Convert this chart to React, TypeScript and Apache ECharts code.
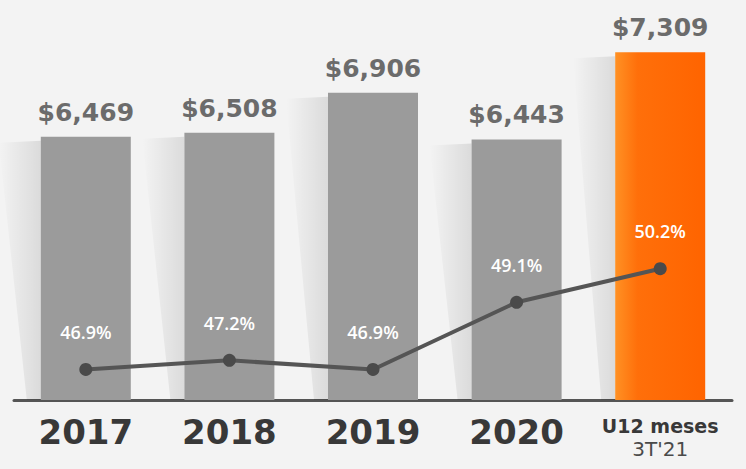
import React, { useEffect, useRef } from "react";
import * as echarts from "echarts";

const categories = ["2017", "2018", "2019", "2020", "U12 meses"];
const revenue = [6469, 6508, 6906, 6443, 7309];
const margin = [46.9, 47.2, 46.9, 49.1, 50.2];
const lastSubLabel = "3T'21";

export default function App() {
  const ref = useRef<HTMLDivElement>(null);
  useEffect(() => {
    if (!ref.current) return;
    const chart = echarts.init(ref.current, undefined, { renderer: "svg" });
    const barW = 90;
    const orange = new echarts.graphic.LinearGradient(0, 0, 1, 0, [
      { offset: 0, color: "#ff9124" },
      { offset: 0.25, color: "#ff6f0a" },
      { offset: 1, color: "#ff6400" },
    ]);
    chart.setOption({
      animation: false,
      backgroundColor: "#f3f3f3",
      grid: { left: 14, right: 14, top: 0, bottom: 69 },
      xAxis: {
        type: "category",
        data: categories,
        axisTick: { show: false },
        axisLine: { lineStyle: { color: "#555555", width: 3 } },
        axisLabel: {
          margin: 14,
          interval: 0,
          formatter: (v: string) =>
            v === categories[categories.length - 1]
              ? `{b|${v}}\n{c|${lastSubLabel}}`
              : `{a|${v}}`,
          rich: {
            a: {
              fontFamily: "DejaVu Sans",
              fontWeight: "bold",
              fontSize: 34,
              color: "#383838",
              lineHeight: 36,
            },
            b: {
              fontFamily: "DejaVu Sans",
              fontWeight: "bold",
              fontSize: 19,
              color: "#383838",
              lineHeight: 24,
            },
            c: {
              fontFamily: "DejaVu Sans",
              fontSize: 20,
              color: "#4a4a4a",
              lineHeight: 22,
            },
          },
        },
      },
      yAxis: [
        { type: "value", min: 3850, max: 7830, show: false, splitLine: { show: false } },
        { type: "value", min: 45.9, max: 59.0, show: false, splitLine: { show: false } },
      ],
      series: [
        {
          type: "custom",
          yAxisIndex: 0,
          z: 1,
          silent: true,
          data: revenue.map((v, i) => [i, v]),
          renderItem: (params: any, api: any) => {
            const top = api.coord([api.value(0), api.value(1)]);
            const base = api.coord([api.value(0), 3850]);
            const x0 = top[0] - barW / 2;
            return {
              type: "polygon",
              shape: {
                points: [
                  [x0 - 42, top[1] + 6],
                  [x0, top[1] + 4],
                  [x0, base[1]],
                  [x0 - 14, base[1]],
                ],
              },
              style: {
                fill: new echarts.graphic.LinearGradient(0, 0, 1, 0, [
                  { offset: 0, color: "rgba(0,0,0,0)" },
                  { offset: 1, color: "rgba(0,0,0,0.10)" },
                ]),
              },
            };
          },
        },
        {
          type: "bar",
          yAxisIndex: 0,
          barWidth: barW,
          z: 2,
          data: revenue.map((v, i) => ({
            value: v,
            itemStyle: { color: i === revenue.length - 1 ? orange : "#9b9b9b" },
          })),
          label: {
            show: true,
            position: "top",
            distance: 12,
            formatter: (p: any) => "$" + Number(p.value).toLocaleString("en-US"),
            fontFamily: "DejaVu Sans",
            fontWeight: "bold",
            fontSize: 25,
            color: "#6b6b6b",
          },
        },
        {
          type: "line",
          yAxisIndex: 1,
          data: margin,
          symbol: "circle",
          symbolSize: 13,
          z: 5,
          lineStyle: { color: "#555555", width: 4 },
          itemStyle: { color: "#4a4a4a" },
          label: {
            show: true,
            position: "top",
            distance: 22,
            formatter: (p: any) => p.value.toFixed(1) + "%",
            fontFamily: "Open Sans",
            fontWeight: 600,
            fontSize: 18,
            color: "#ffffff",
          },
        },
      ],
    });
    return () => chart.dispose();
  }, []);
  return (
    <div
      ref={ref}
      style={{ position: "fixed", left: 0, top: 0, width: 746, height: 469 }}
    />
  );
}
